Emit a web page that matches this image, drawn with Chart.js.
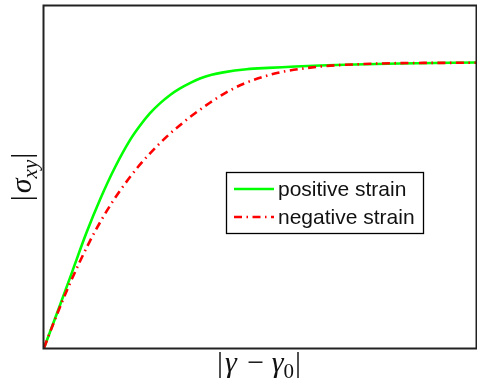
<!DOCTYPE html>
<html>
<head>
<meta charset="utf-8">
<script src="https://cdn.jsdelivr.net/npm/chart.js@4"></script>
<style>
  html, body { margin: 0; padding: 0; background: #fff; }
  #wrap { position: relative; width: 477px; height: 383px; }
</style>
</head>
<body>
<div id="wrap"><canvas id="c" width="477" height="383"></canvas></div>
<script>
// ---- data (x: |gamma - gamma0|, y: |sigma_xy|, arbitrary units 0..100) ----
const posX = [0, 3.2, 6.5, 9.8, 13.0, 16.5, 19.9, 22.2, 24.5, 26.9, 29.2, 31.5, 34.0, 36.1, 38.8, 41.5, 46.9, 51.9, 63.9, 82.4, 100];
const posY = [0, 10.8, 22.2, 33.6, 43.5, 53.0, 60.8, 65.0, 68.6, 71.6, 74.0, 75.9, 77.6, 78.8, 79.9, 80.6, 81.5, 81.9, 82.6, 83.2, 83.5];
const negX = [0, 2.5, 5.9, 10.6, 14.5, 17.6, 22.2, 28.4, 31.9, 34.5, 38.4, 42.3, 46.1, 50.8, 54.6, 63.9, 73.1, 82.4, 100];
const negY = [0, 8.2, 18.6, 31.2, 40.0, 46.0, 53.6, 61.8, 65.6, 68.2, 71.7, 74.8, 77.2, 79.3, 80.6, 82.3, 83.0, 83.3, 83.4];
const seriesNames = ['positive strain', 'negative strain'];
const xRange = [0, 100];
const yRange = [0, 100];

const toPts = (xs, ys) => xs.map((x, i) => ({ x: x, y: ys[i] }));

const GREEN = '#00ff00';
const RED = '#ff0000';
const DASH = [8, 4.5, 1.5, 4.5];

// draw rich text pieces: [{t, italic, sub}]
function drawRich(ctx, pieces, size, family) {
  const fontOf = p => (p.italic ? 'italic ' : '') + Math.round(p.sub ? size * 0.7 : size) + 'px ' + family;
  let total = 0;
  const widths = pieces.map(p => { ctx.font = fontOf(p); const w = ctx.measureText(p.t).width + (p.pad || 0); total += w; return w; });
  let x = -total / 2;
  ctx.textBaseline = 'alphabetic';
  ctx.textAlign = 'left';
  pieces.forEach((p, i) => {
    ctx.font = fontOf(p);
    ctx.fillText(p.t, x, p.sub ? size * 0.2 : 0);
    x += widths[i];
  });
}

const framePlugin = {
  id: 'frame',
  afterDraw(chart) {
    const { ctx, chartArea: a } = chart;
    ctx.save();
    // axes box
    ctx.strokeStyle = '#222';
    ctx.lineWidth = 2;
    ctx.strokeRect(a.left - 0.5, a.top - 0.5, a.right - a.left + 1, a.bottom - a.top + 1);

    // legend
    const lx = a.left + 182, ly = a.top + 166, lw = 197, lh = 61;
    ctx.fillStyle = '#fff';
    ctx.fillRect(lx, ly, lw, lh);
    ctx.strokeStyle = '#000';
    ctx.lineWidth = 1.3;
    ctx.strokeRect(lx + 0.5, ly + 0.5, lw, lh);
    const rows = [
      { y: ly + 17, color: GREEN, dash: [] },
      { y: ly + 45, color: RED, dash: DASH }
    ];
    rows.forEach((r, i) => {
      ctx.beginPath();
      ctx.setLineDash(r.dash);
      ctx.strokeStyle = r.color;
      ctx.lineWidth = 2.5;
      ctx.moveTo(lx + 8, r.y);
      ctx.lineTo(lx + 48, r.y);
      ctx.stroke();
      ctx.setLineDash([]);
      ctx.fillStyle = '#111';
      ctx.font = '21px "Liberation Sans", Arial, sans-serif';
      ctx.textAlign = 'left';
      ctx.textBaseline = 'middle';
      ctx.fillText(seriesNames[i], lx + 52, r.y + 1);
    });

    // axis titles
    ctx.fillStyle = '#111';
    const fam = '"Liberation Serif", "DejaVu Serif", serif';
    ctx.save();
    ctx.translate((a.left + a.right) / 2 - 1, a.bottom + 24);
    drawRich(ctx, [
      { t: '|', pad: 2 }, { t: 'γ', italic: true, pad: 3 }, { t: ' − ' }, { t: 'γ', italic: true }, { t: '0', sub: true, pad: 1 }, { t: '|' }
    ], 30, fam);
    ctx.restore();

    ctx.save();
    ctx.translate(a.left - 13, (a.top + a.bottom) / 2);
    ctx.rotate(-Math.PI / 2);
    drawRich(ctx, [
      { t: '|', pad: 2 }, { t: 'σ', italic: true }, { t: 'xy', italic: true, sub: true, pad: 1 }, { t: '|' }
    ], 30, fam);
    ctx.restore();
    ctx.restore();
  }
};

new Chart(document.getElementById('c'), {
  type: 'line',
  data: {
    datasets: [
      {
        label: seriesNames[0],
        data: toPts(posX, posY),
        borderColor: GREEN,
        borderWidth: 2.6,
        pointRadius: 0,
        cubicInterpolationMode: 'monotone',
        fill: false,
        order: 1
      },
      {
        label: seriesNames[1],
        data: toPts(negX, negY),
        borderColor: RED,
        borderWidth: 2.6,
        borderDash: DASH,
        pointRadius: 0,
        cubicInterpolationMode: 'monotone',
        fill: false,
        order: 0
      }
    ]
  },
  options: {
    responsive: false,
    animation: false,
    devicePixelRatio: 1,
    layout: { padding: { left: 44, top: 6, right: 1, bottom: 35 } },
    plugins: { legend: { display: false }, tooltip: { enabled: false } },
    scales: {
      x: { type: 'linear', min: xRange[0], max: xRange[1], display: false },
      y: { type: 'linear', min: yRange[0], max: yRange[1], display: false }
    }
  },
  plugins: [framePlugin]
});
</script>
</body>
</html>
